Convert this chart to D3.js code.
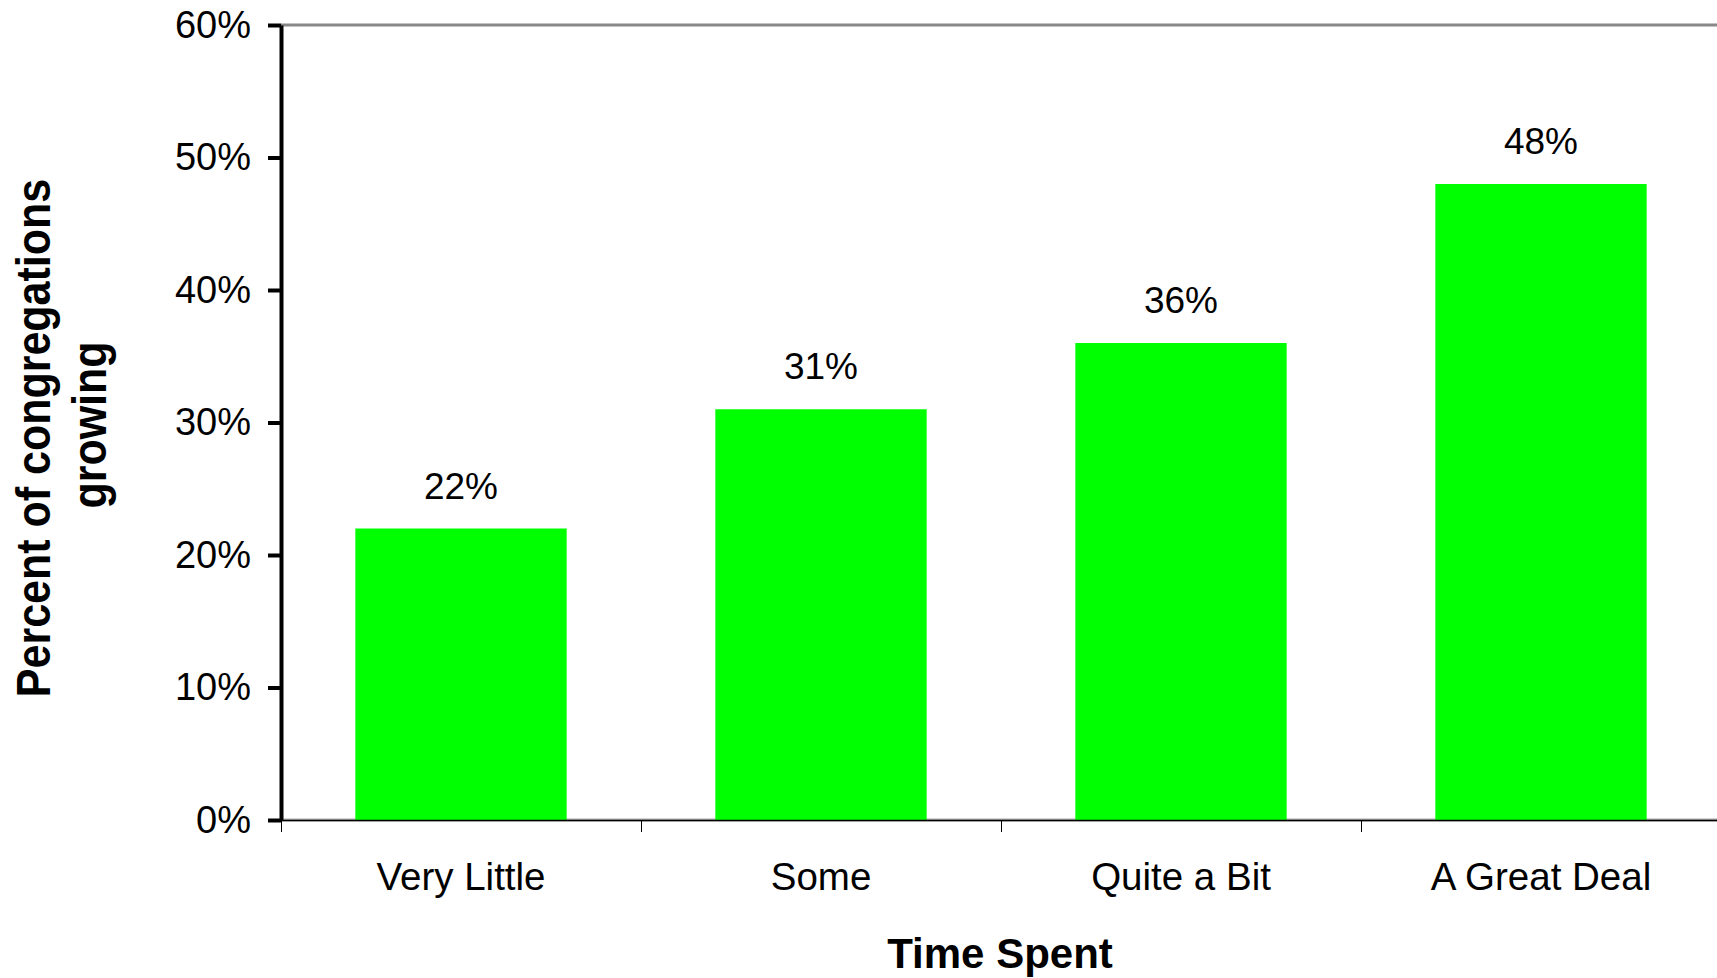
<!DOCTYPE html>
<html>
<head>
<meta charset="utf-8">
<script src="https://cdn.jsdelivr.net/npm/d3@7"></script>
<style>
  body { margin: 0; background: #fff; }
  svg { display: block; font-family: 'Liberation Sans', Arial, sans-serif; }
</style>
</head>
<body>
<div id="chart"></div>
<script>
// data
var categories = ['Very Little', 'Some', 'Quite a Bit', 'A Great Deal']
var values = [0.22, 0.31, 0.36, 0.48]
var yTicks = [0, 0.1, 0.2, 0.3, 0.4, 0.5, 0.6]

var margin = { top: 25, left: 281, right: 0, bottom: 158 }
var fullWidth = 1717
var fullHeight = 978
// plot area runs a little past the right edge of the picture
var width = 1440
var height = fullHeight - margin.top - margin.bottom

var svg = d3
  .select('#chart')
  .append('svg')
  .attr('width', fullWidth)
  .attr('height', fullHeight)

var g = svg.append('g').attr('transform', `translate(${margin.left}, ${margin.top})`)

var xPositionScale = d3
  .scaleBand()
  .domain(categories)
  .range([0, width])
  .paddingInner(0.413)
  .paddingOuter(0.2065)

var xEdgeScale = d3
  .scaleLinear()
  .domain([0, categories.length])
  .range([0, width])

var yPositionScale = d3
  .scaleLinear()
  .domain([0, 0.6])
  .range([height, 0])

// plot area border (gray)
g.append('line')
  .attr('x1', 0)
  .attr('x2', width)
  .attr('y1', yPositionScale(0.6))
  .attr('y2', yPositionScale(0.6))
  .attr('stroke', '#888')
  .attr('stroke-width', 3)
g.append('line')
  .attr('x1', 0)
  .attr('x2', width)
  .attr('y1', height)
  .attr('y2', height)
  .attr('stroke', '#aaa')
  .attr('stroke-width', 3)

// bars
var data = categories.map((c, i) => ({ cat: c, value: values[i] }))
g.selectAll('.bar')
  .data(data)
  .enter()
  .append('rect')
  .attr('class', 'bar')
  .attr('x', d => xPositionScale(d.cat))
  .attr('width', xPositionScale.bandwidth())
  .attr('y', d => yPositionScale(d.value))
  .attr('height', d => height - yPositionScale(d.value))
  .attr('fill', '#00ff00')

// value labels
g.selectAll('.value-label')
  .data(data)
  .enter()
  .append('text')
  .attr('class', 'value-label')
  .text(d => d3.format('.0%')(d.value))
  .attr('x', d => xPositionScale(d.cat) + xPositionScale.bandwidth() / 2)
  .attr('y', d => yPositionScale(d.value) - 30)
  .attr('text-anchor', 'middle')
  .attr('font-size', 37)
  .attr('fill', '#000')

// x axis: edge ticks
var xEdgeAxis = d3
  .axisBottom(xEdgeScale)
  .tickValues(d3.range(categories.length + 1))
  .tickFormat('')
  .tickSize(12)
  .tickSizeOuter(0)
g.append('g')
  .attr('class', 'axis x-edge')
  .attr('transform', `translate(0, ${height})`)
  .call(xEdgeAxis)
  .call(s => s.select('.domain').attr('stroke', '#000').attr('stroke-width', 1.5))
  .call(s => s.selectAll('.tick line').attr('stroke', '#000').attr('stroke-width', 1))

// x axis: category labels
var xAxis = d3.axisBottom(xPositionScale).tickSize(0).tickPadding(43)
g.append('g')
  .attr('class', 'axis x-axis')
  .attr('transform', `translate(0, ${height})`)
  .call(xAxis)
  .call(s => s.select('.domain').remove())
  .call(s => s.selectAll('text')
    .attr('font-size', 38.5)
    .attr('font-family', "'Liberation Sans', Arial, sans-serif")
    .attr('fill', '#000'))

// y axis
var yAxis = d3
  .axisLeft(yPositionScale)
  .tickValues(yTicks)
  .tickFormat(d3.format('.0%'))
  .tickSize(13)
  .tickSizeOuter(0)
  .tickPadding(17)
g.append('g')
  .attr('class', 'axis y-axis')
  .call(yAxis)
  .call(s => s.select('.domain').attr('stroke', '#000').attr('stroke-width', 4))
  .call(s => s.selectAll('.tick line').attr('stroke', '#000').attr('stroke-width', 4))
  .call(s => s.selectAll('text')
    .attr('font-size', 38)
    .attr('font-family', "'Liberation Sans', Arial, sans-serif")
    .attr('fill', '#000')
    .attr('dy', '0.32em'))

// x axis title
svg.append('text')
  .text('Time Spent')
  .attr('x', 1000)
  .attr('y', 968)
  .attr('text-anchor', 'middle')
  .attr('font-size', 42)
  .attr('font-weight', 'bold')

// y axis title (two lines)
svg.append('text')
  .text('Percent of congregations')
  .attr('transform', 'translate(50, 438) rotate(-90) scale(1, 1.12)')
  .attr('text-anchor', 'middle')
  .attr('font-size', 43)
  .attr('font-weight', 'bold')
svg.append('text')
  .text('growing')
  .attr('transform', 'translate(106, 425) rotate(-90) scale(1, 1.12)')
  .attr('text-anchor', 'middle')
  .attr('font-size', 43)
  .attr('font-weight', 'bold')
</script>
</body>
</html>
